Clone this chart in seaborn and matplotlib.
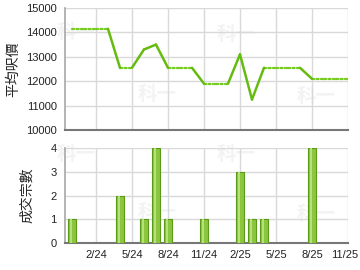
import numpy as np
import pandas as pd
import matplotlib
matplotlib.use("Agg")
import matplotlib.pyplot as plt
import matplotlib.transforms as mtransforms
import seaborn as sns

# month index: 0 = Nov 2023
months = list(range(1, 25))  # Dec 2023 .. Nov 2025
avg_price = [14150, 14150, 14150, 14150, 12550, 12550, 13300, 13500, 12550, 12550, 12550,
             11900, 11900, 11900, 13100, 11250, 12550, 12550, 12550, 12550, 12100, 12100,
             12100, 12100]
deal_months = [1, 5, 7, 8, 9, 12, 15, 16, 17, 21]
deal_counts = [1, 2, 1, 4, 1, 1, 3, 1, 1, 4]
tick_pos = [3, 6, 9, 12, 15, 18, 21, 24]
tick_labels = ["2/24", "5/24", "8/24", "11/24", "2/25", "5/25", "8/25", "11/25"]

sns.set_theme(style="white")
plt.rcParams['font.family'] = ['Liberation Sans', 'Noto Sans CJK TC', 'DejaVu Sans']

fig = plt.figure(figsize=(3.6, 2.7), dpi=100)
ax1 = fig.add_axes([65/360, 1-130/270, (348-65)/360, 122/270])
ax2 = fig.add_axes([65/360, 1-243/270, (348-65)/360, 95/270])
for ax in (ax1, ax2):
    ax.patch.set_alpha(0)

# watermarks
for (x, y) in [(76, 32), (157, 94), (236, 35), (316, 96), (76, 154), (157, 212), (236, 154), (316, 214)]:
    fig.text(x/360, 1-y/270, "科一", fontsize=14, fontweight='bold', color='#f3f3f3',
             ha='center', va='center', family=['Noto Sans CJK TC'], zorder=-5)

deals_set = set(deal_months)
rows = []
for i in range(len(months) - 1):
    kind = 'solid' if months[i+1] in deals_set else 'dot'
    rows.append(dict(seg=i, m=months[i], p=avg_price[i], kind=kind))
    rows.append(dict(seg=i, m=months[i+1], p=avg_price[i+1], kind=kind))
df = pd.DataFrame(rows)

green = '#66bb11'
for kind, ls in [('dot', (0, (1, 1))), ('solid', '-')]:
    sub = df[df.kind == kind]
    sns.lineplot(data=sub, x='m', y='p', units='seg', estimator=None, ax=ax1,
                 color=green if kind == 'solid' else '#77cc22',
                 linewidth=1.6 if kind == 'dot' else 1.8, linestyle=ls,
                 solid_capstyle='round', dash_capstyle='round', zorder=3, legend=False)

bdf = pd.DataFrame(dict(m=deal_months, n=deal_counts))
sns.barplot(data=bdf, x='m', y='n', native_scale=True, ax=ax2, color='#8cc63f',
            width=0.67, edgecolor='#5a9a18', linewidth=0.8, saturation=1, zorder=3)
# highlight for gradient look
for p in ax2.patches:
    x0, w, h = p.get_x(), p.get_width(), p.get_height()
    ax2.bar(x0 + w*0.28, h, width=w*0.25, bottom=0, align='edge', color='#b5e07a',
            linewidth=0, zorder=4)

for ax in (ax1, ax2):
    ax.set_xlim(0.42, 24)
    ax.set_xticks(tick_pos)
    ax.grid(True, color='#d9d9d9', linewidth=1)
    ax.set_axisbelow(True)
    for s in ['top', 'right']:
        ax.spines[s].set_visible(False)
    ax.spines['left'].set_color('#aaaaaa')
    ax.spines['bottom'].set_color('#777777')
    ax.spines['bottom'].set_linewidth(1.5)
    ax.tick_params(axis='both', labelsize=8, colors='#222222', length=0, pad=6)
    ax.set_xlabel('')

ax1.set_ylim(10000, 15000)
ax1.set_yticks(range(10000, 15001, 1000))
ax1.set_xticklabels([])
ax1.set_ylabel("平均呎價", fontsize=10, family=['Noto Sans CJK TC'], labelpad=4)

ax2.set_ylim(0, 4)
ax2.set_yticks(range(0, 5))
ax2.set_xticklabels(tick_labels)
ax2.tick_params(axis='x', length=3, color='#aaaaaa', pad=2)
ax2.set_ylabel("成交宗數", fontsize=10, family=['Noto Sans CJK TC'], labelpad=12)

last = ax2.get_xticklabels()[-1]
last.set_transform(last.get_transform() + mtransforms.ScaledTranslation(-3/100, 0, fig.dpi_scale_trans))

fig.savefig("out.png", dpi=100)
